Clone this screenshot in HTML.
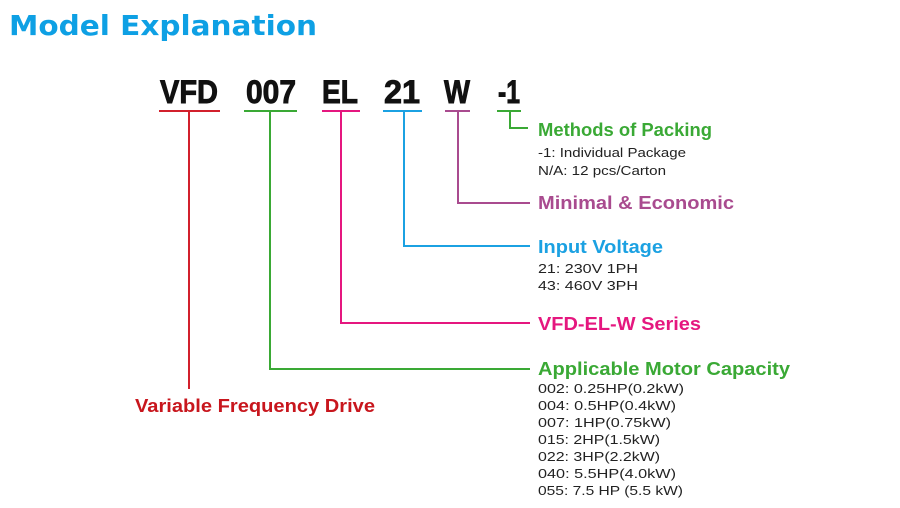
<!DOCTYPE html>
<html><head><meta charset="utf-8"><style>
html,body{margin:0;padding:0;background:#fff;width:900px;height:508px;overflow:hidden}
text{font-family:"Liberation Sans",Arial,sans-serif}
text.t{font-family:"DejaVu Sans",sans-serif}
</style></head><body>
<svg width="900" height="508" viewBox="0 0 900 508" xmlns="http://www.w3.org/2000/svg">
<text class="t" x="9" y="35" font-weight="bold" font-size="28" fill="#0ea0e4" textLength="308" lengthAdjust="spacingAndGlyphs">Model Explanation</text>
<g font-weight="bold" font-size="32" fill="#111" stroke="#111" stroke-width="0.9">
<text x="160" y="103" textLength="58" lengthAdjust="spacingAndGlyphs">VFD</text>
<text x="246" y="103" textLength="50" lengthAdjust="spacingAndGlyphs">007</text>
<text x="322" y="103" textLength="36" lengthAdjust="spacingAndGlyphs">EL</text>
<text x="384" y="103" textLength="36" lengthAdjust="spacingAndGlyphs">21</text>
<text x="444" y="103" textLength="26" lengthAdjust="spacingAndGlyphs">W</text>
<text x="498" y="103" textLength="22" lengthAdjust="spacingAndGlyphs">-1</text>
</g>
<g fill="none" stroke-width="2">
<path d="M159 111H220M189 111V389" stroke="#d2202c"/>
<path d="M244 111H297M270 111V369H530" stroke="#3aa935"/>
<path d="M322 111H360M341 111V323H530" stroke="#e5177f"/>
<path d="M383 111H422M404 111V246H530" stroke="#1ba1e2"/>
<path d="M445 111H470M458 111V203H530" stroke="#a94b8f"/>
<path d="M497 111H521M510 111V128H528" stroke="#3aa935"/>
</g>
<g font-weight="bold" font-size="18">
<text x="538" y="136" fill="#3aa935" textLength="174" lengthAdjust="spacingAndGlyphs">Methods of Packing</text>
<text x="538" y="209" fill="#a94b8f" textLength="196" lengthAdjust="spacingAndGlyphs">Minimal &amp; Economic</text>
<text x="538" y="253" fill="#1ba1e2" textLength="125" lengthAdjust="spacingAndGlyphs">Input Voltage</text>
<text x="538" y="330" fill="#e5177f" textLength="163" lengthAdjust="spacingAndGlyphs">VFD-EL-W Series</text>
<text x="538" y="375" fill="#3aa935" textLength="252" lengthAdjust="spacingAndGlyphs">Applicable Motor Capacity</text>
<text x="135" y="412" fill="#c8161d" textLength="240" lengthAdjust="spacingAndGlyphs">Variable Frequency Drive</text>
</g>
<g font-size="13" fill="#222">
<text x="538" y="157" textLength="148" lengthAdjust="spacingAndGlyphs">-1: Individual Package</text>
<text x="538" y="175" textLength="128" lengthAdjust="spacingAndGlyphs">N/A: 12 pcs/Carton</text>
<text x="538" y="273" textLength="100" lengthAdjust="spacingAndGlyphs">21: 230V 1PH</text>
<text x="538" y="290" textLength="100" lengthAdjust="spacingAndGlyphs">43: 460V 3PH</text>
<text x="538" y="393" textLength="146" lengthAdjust="spacingAndGlyphs">002: 0.25HP(0.2kW)</text>
<text x="538" y="410" textLength="138" lengthAdjust="spacingAndGlyphs">004: 0.5HP(0.4kW)</text>
<text x="538" y="427" textLength="133" lengthAdjust="spacingAndGlyphs">007: 1HP(0.75kW)</text>
<text x="538" y="444" textLength="122" lengthAdjust="spacingAndGlyphs">015: 2HP(1.5kW)</text>
<text x="538" y="461" textLength="122" lengthAdjust="spacingAndGlyphs">022: 3HP(2.2kW)</text>
<text x="538" y="478" textLength="138" lengthAdjust="spacingAndGlyphs">040: 5.5HP(4.0kW)</text>
<text x="538" y="495" textLength="145" lengthAdjust="spacingAndGlyphs">055: 7.5 HP (5.5 kW)</text>
</g>
</svg>
</body></html>
